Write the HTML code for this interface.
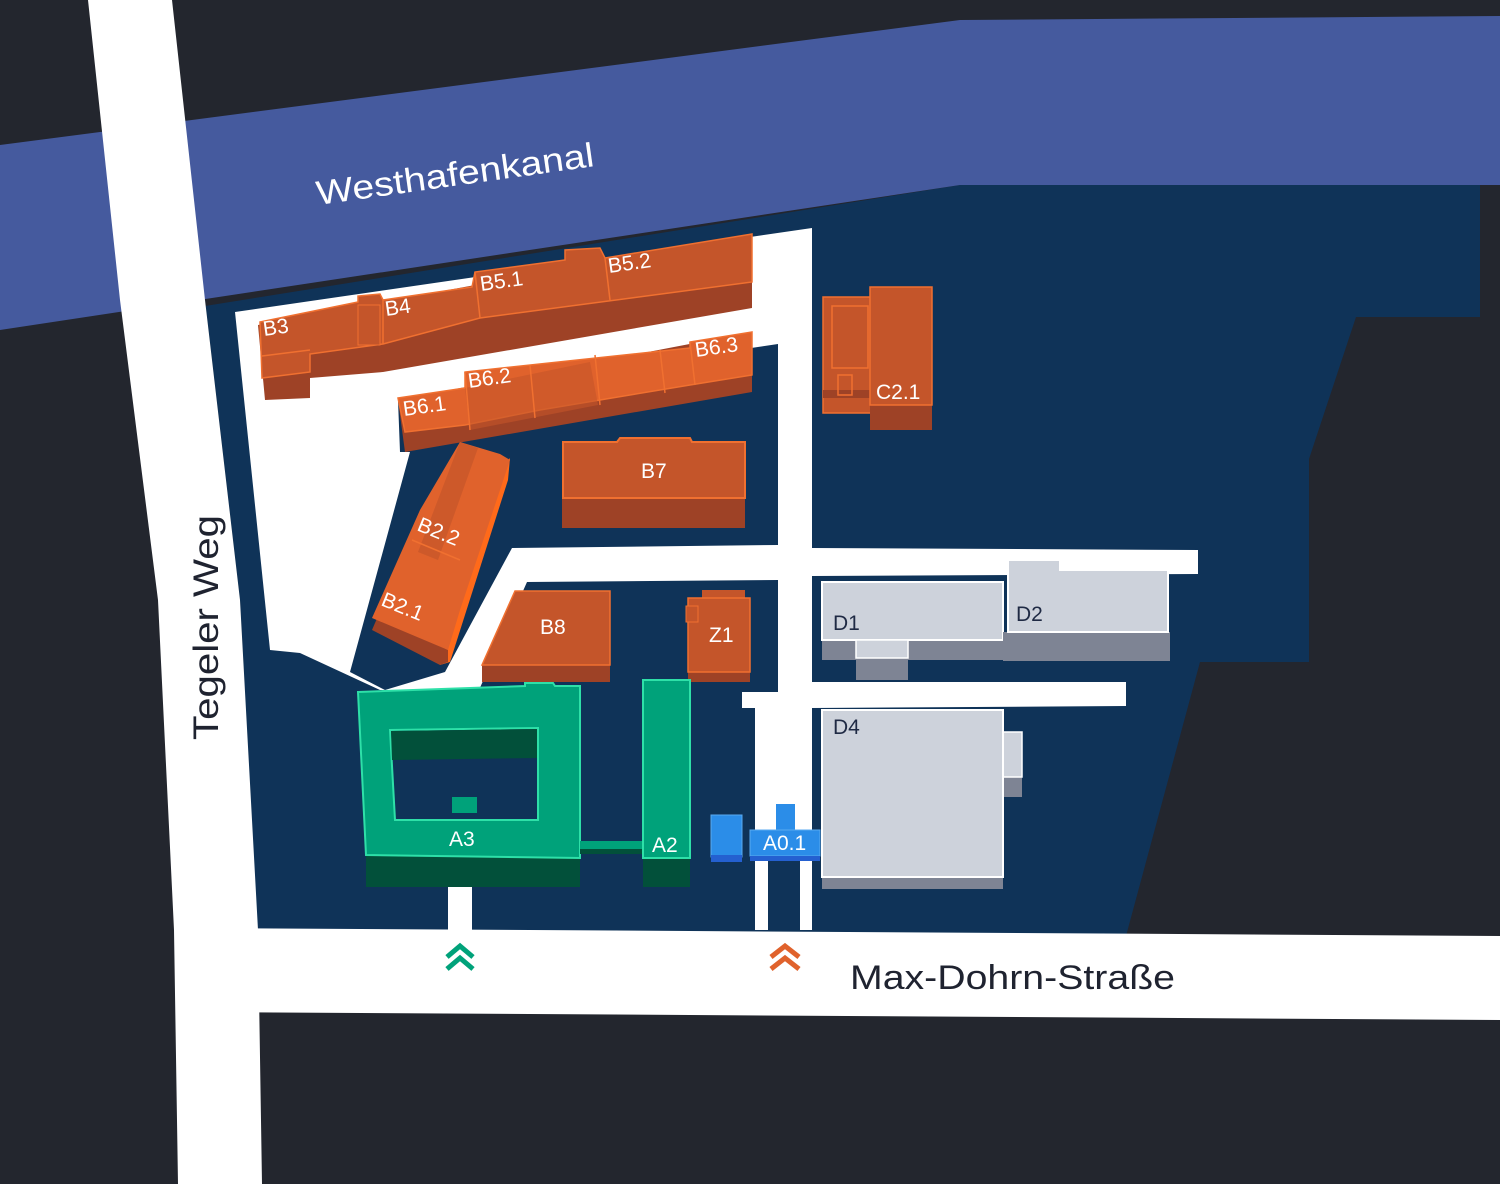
<!DOCTYPE html>
<html><head><meta charset="utf-8"><style>
html,body{margin:0;padding:0;background:#23262e;}
svg{display:block}
text{font-family:"Liberation Sans",sans-serif}
</style></head><body>
<svg width="1500" height="1184" viewBox="0 0 1500 1184" xmlns="http://www.w3.org/2000/svg">
<rect width="1500" height="1184" fill="#23262e"/>
<polygon points="180,310 960,185 1480,185 1480,317 1356,317 1309,459 1309,662 1200,662 1126,936 258,936 240,600 205,300" fill="#0f3358"/>
<polygon points="0,145 960,20 1500,16 1500,185 960,185 0,330" fill="#455a9e"/>
<polygon points="88,0 172,0 205,300 240,600 258,930 262,1184 178,1184 174,930 158,600 120,300" fill="#ffffff"/>
<polygon points="200,928 1500,936 1500,1020 200,1012" fill="#ffffff"/>
<polygon points="235,312 812,228 812,548 1198,550 1198,574 812,576 812,682 1126,682 1126,706 812,708 812,930 800,930 800,860 768,860 768,930 755,930 755,708 742,708 742,692 778,692 778,580 527,582 479,690 380,690 300,653 270,650" fill="#ffffff"/>
<polygon points="398,400 778,344 778,545 512,548 445,672 385,690 350,672 410,452 400,452" fill="#0f3358"/>
<rect x="448" y="880" width="24" height="52" fill="#ffffff"/>

<polygon points="258,325 752,234 752,308 383,372 310,378 310,398 265,400" fill="#9e4226"/>
<polygon points="260,322 358,302 358,296 380,294 383,300 472,287 475,272 565,260 565,250 600,248 605,258 752,234 752,282 480,318 383,344 310,354 310,372 262,378" fill="#c4552a" stroke="#f07030" stroke-width="1.5"/>
<line x1="383" y1="300" x2="383" y2="344" stroke="#f07030" stroke-width="1.5"/>
<line x1="475" y1="272" x2="480" y2="318" stroke="#f07030" stroke-width="1.5"/>
<line x1="605" y1="258" x2="610" y2="300" stroke="#f07030" stroke-width="1.5"/>
<line x1="262" y1="356" x2="310" y2="350" stroke="#f07030" stroke-width="1.5"/>
<rect x="358" y="305" width="22" height="40" fill="#c4552a" stroke="#f07030" stroke-width="1"/>
<polygon points="398,400 752,332 752,392 405,452" fill="#9e4226"/>
<polygon points="398,398 465,388 465,372 690,348 690,342 752,332 752,375 690,385 540,410 465,425 405,432" fill="#e0622c" stroke="#f07030" stroke-width="1.5"/>
<polygon points="465,388 590,362 598,405 470,430" fill="#c4552a" opacity="0.6"/>
<line x1="465" y1="372" x2="470" y2="430" stroke="#f07030" stroke-width="1.5"/>
<line x1="530" y1="365" x2="535" y2="418" stroke="#f07030" stroke-width="1.5"/>
<line x1="595" y1="355" x2="600" y2="405" stroke="#f07030" stroke-width="1.5"/>
<line x1="660" y1="350" x2="665" y2="393" stroke="#f07030" stroke-width="1.5"/>
<line x1="690" y1="342" x2="695" y2="385" stroke="#f07030" stroke-width="1.5"/>
<rect x="562" y="495" width="183" height="33" fill="#9e4226"/>
<polygon points="563,442 617,442 620,438 690,438 692,442 745,442 745,498 563,498" fill="#c4552a" stroke="#f07030" stroke-width="2"/>
<polygon points="510,458 508,480 450,662 440,665 500,470" fill="#ff6a1a"/>
<polygon points="372,630 440,665 448,662 448,650 378,616" fill="#9e4226"/>
<polygon points="460,442 500,454 510,460 460,610 448,650 372,618 420,510" fill="#e0622c"/>
<polygon points="460,442 478,448 438,560 418,552" fill="#c4552a" opacity="0.7"/>
<line x1="412" y1="540" x2="460" y2="560" stroke="#f07030" stroke-width="1.5"/>
<polygon points="482,665 610,665 610,682 482,682" fill="#9e4226"/>
<polygon points="515,591 610,591 610,665 482,665" fill="#c4552a" stroke="#f07030" stroke-width="1.5"/>
<rect x="688" y="672" width="62" height="10" fill="#9e4226"/>
<rect x="702" y="590" width="43" height="10" fill="#c4552a"/>
<rect x="688" y="598" width="62" height="74" fill="#c4552a" stroke="#f07030" stroke-width="1.5"/>
<rect x="686" y="606" width="12" height="16" fill="#c4552a" stroke="#f07030" stroke-width="1"/>
<rect x="823" y="297" width="50" height="116" fill="#c4552a" stroke="#f07030" stroke-width="1.5"/>
<rect x="832" y="306" width="36" height="62" fill="none" stroke="#f07030" stroke-width="1.5"/>
<rect x="823" y="390" width="50" height="8" fill="#9e4226"/>
<rect x="838" y="375" width="14" height="20" fill="none" stroke="#f07030" stroke-width="1.5"/>
<rect x="870" y="400" width="62" height="30" fill="#9e4226"/>
<rect x="870" y="287" width="62" height="118" fill="#c4552a" stroke="#f07030" stroke-width="1.5"/>

<rect x="366" y="855" width="214" height="32" fill="#02503a"/>
<polygon points="358,692 525,686 525,683 553,683 555,686 580,686 580,858 366,855" fill="#00a27a" stroke="#2ee0a8" stroke-width="2"/>
<polygon points="390,730 538,728 538,820 395,820" fill="#0f3358" stroke="#2ee0a8" stroke-width="2"/>
<polygon points="391,731 537,729 537,758 392,760" fill="#02503a"/>
<rect x="452" y="797" width="25" height="16" fill="#00a27a"/>
<rect x="580" y="841" width="63" height="8" fill="#00a27a"/>
<rect x="580" y="849" width="63" height="5" fill="#02503a"/>
<rect x="643" y="856" width="47" height="31" fill="#02503a"/>
<rect x="643" y="680" width="47" height="178" fill="#00a27a" stroke="#2ee0a8" stroke-width="2"/>
<rect x="711" y="815" width="31" height="42" fill="#2b8de8" stroke="#5aaaf0" stroke-width="1"/>
<rect x="711" y="855" width="31" height="7" fill="#2460d0"/>
<rect x="776" y="804" width="19" height="28" fill="#2b8de8"/>
<rect x="750" y="830" width="70" height="26" fill="#2b8de8" stroke="#5aaaf0" stroke-width="1"/>
<rect x="750" y="856" width="70" height="5" fill="#2460d0"/>
<rect x="822" y="640" width="181" height="20" fill="#7e8494"/>
<rect x="856" y="658" width="52" height="22" fill="#7e8494"/>
<rect x="822" y="582" width="181" height="58" fill="#cdd2db" stroke="#ffffff" stroke-width="2"/>
<rect x="856" y="640" width="52" height="18" fill="#cdd2db" stroke="#ffffff" stroke-width="1.5"/>
<rect x="1003" y="632" width="167" height="29" fill="#7e8494"/>
<polygon points="1008,560 1060,560 1060,570 1168,570 1168,632 1008,632" fill="#cdd2db" stroke="#ffffff" stroke-width="2"/>
<rect x="1003" y="775" width="19" height="22" fill="#7e8494"/>
<rect x="1003" y="732" width="19" height="45" fill="#cdd2db" stroke="#ffffff" stroke-width="1.5"/>
<rect x="822" y="876" width="181" height="13" fill="#7e8494"/>
<rect x="822" y="710" width="181" height="167" fill="#cdd2db" stroke="#ffffff" stroke-width="2"/>

<g fill="none" stroke-width="5">
<polyline points="447,957 460,946 473,957" stroke="#00a27a"/>
<polyline points="447,969 460,958 473,969" stroke="#00a27a"/>
<polyline points="771,957 785,946 799,957" stroke="#e0622c"/>
<polyline points="771,969 785,958 799,969" stroke="#e0622c"/>
</g>

<g fill="#ffffff" font-size="21">
<text x="264" y="336" transform="rotate(-8 264 336)">B3</text>
<text x="386" y="316" transform="rotate(-8 386 316)">B4</text>
<text x="481" y="291" transform="rotate(-8 481 291)">B5.1</text>
<text x="609" y="273" transform="rotate(-8 609 273)">B5.2</text>
<text x="404" y="416" transform="rotate(-8 404 416)">B6.1</text>
<text x="469" y="388" transform="rotate(-8 469 388)">B6.2</text>
<text x="696" y="357" transform="rotate(-8 696 357)">B6.3</text>
<text x="641" y="478">B7</text>
<text x="416" y="530" transform="rotate(22 416 530)">B2.2</text>
<text x="380" y="605" transform="rotate(22 380 605)">B2.1</text>
<text x="540" y="634">B8</text>
<text x="709" y="642">Z1</text>
<text x="876" y="399">C2.1</text>
<text x="449" y="846">A3</text>
<text x="652" y="852">A2</text>
<text x="763" y="850">A0.1</text>
</g>
<g fill="#1f2a44" font-size="21">
<text x="833" y="630">D1</text>
<text x="1016" y="621">D2</text>
<text x="833" y="734">D4</text>
</g>
<text x="318" y="205" font-size="34" fill="#ffffff" textLength="280" lengthAdjust="spacingAndGlyphs" transform="rotate(-8 318 205)">Westhafenkanal</text>
<text x="218" y="740" font-size="35" fill="#1f2330" textLength="225" lengthAdjust="spacingAndGlyphs" transform="rotate(-90 218 740)">Tegeler Weg</text>
<text x="850" y="989" font-size="34" fill="#1f2330" textLength="325" lengthAdjust="spacingAndGlyphs">Max-Dohrn-Straße</text>
</svg>
</body></html>
